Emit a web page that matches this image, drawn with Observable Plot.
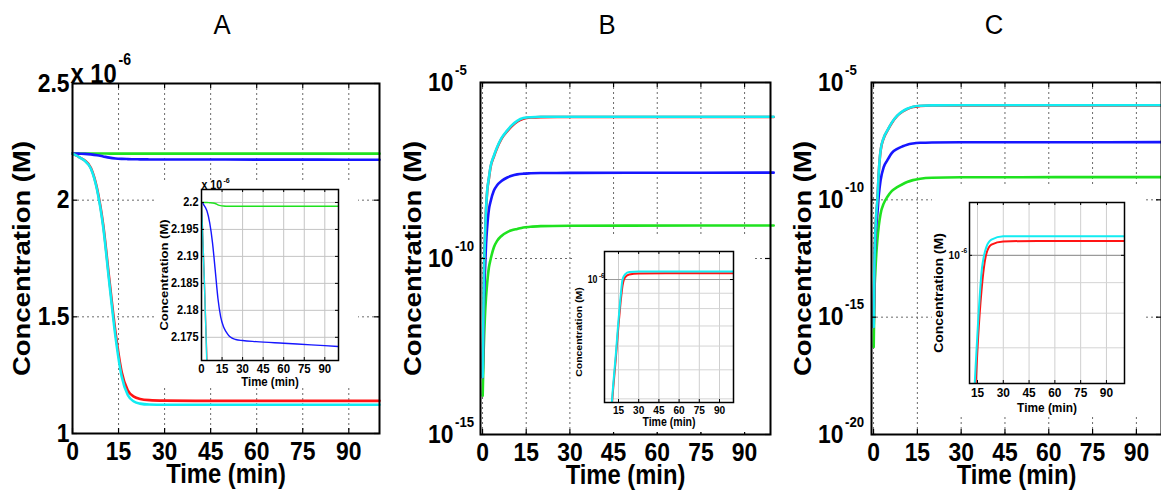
<!DOCTYPE html>
<html>
<head>
<meta charset="utf-8">
<script src="https://cdn.jsdelivr.net/npm/d3@7"></script>
<script src="https://cdn.jsdelivr.net/npm/@observablehq/plot@0.6"></script>
<style>
  body { margin: 0; background: #fff; overflow: hidden; }
  #fig { position: relative; width: 1161px; height: 491px; overflow: hidden; background: #fff;
         font-family: "Liberation Sans", Arial, Helvetica, sans-serif; }
  .layer { position: absolute; }
  .cover { position: absolute; background: #fff; }
  .title { position: absolute; width: 40px; text-align: center; font-size: 27px; line-height: 34px;
           top: 8px; transform: scaleX(0.95); }
</style>
</head>
<body>
<div id="fig"></div>
<script>
// ---- time axes (min) ----
const mainTicks = [0, 15, 30, 45, 60, 75, 90];
const zoomTicks = [15, 30, 45, 60, 75, 90];

// ---- panel A: linear, values in units of 1e-6 M ----
const aYTicks = [1, 1.5, 2, 2.5];
const aZoomYTicks = [2.175, 2.18, 2.185, 2.19, 2.195, 2.2];
const aTime  = [0, 1, 2, 3, 4, 6, 8, 10, 12, 14, 16, 18, 20, 22, 25, 30, 40, 60, 80, 100];
const aRed   = [2.2, 2.193, 2.186, 2.178, 2.170, 2.138, 2.05, 1.895, 1.66, 1.435, 1.265, 1.185, 1.158, 1.148, 1.143, 1.141, 1.14, 1.14, 1.14, 1.14];
const aCyan  = [2.2, 2.193, 2.186, 2.178, 2.169, 2.135, 2.045, 1.885, 1.645, 1.415, 1.245, 1.165, 1.137, 1.128, 1.124, 1.123, 1.123, 1.123, 1.123, 1.123];
const aBlue  = [2.2, 2.1998, 2.1994, 2.199, 2.1984, 2.1962, 2.1926, 2.1875, 2.1822, 2.1788, 2.177, 2.176, 2.1753, 2.1749, 2.1746, 2.1744, 2.1742, 2.1739, 2.1736, 2.1733];
const aGreen = [2.2, 2.2, 2.2, 2.2, 2.2, 2.19995, 2.1999, 2.1998, 2.19955, 2.1994, 2.19933, 2.1993, 2.1993, 2.1993, 2.1993, 2.1993, 2.1993, 2.1993, 2.1993, 2.1993];

// ---- panel B: log scale, M ----
const bYTicks = [1e-15, 1e-10, 1e-5];
const bTime  = [0.05, 0.4, 0.8, 1.2, 1.6, 2.2, 2.7, 3.9, 5, 6.5, 8.5, 10, 11.9, 14, 16.5, 20, 30, 50, 75, 100];
const bRed   = [4.27e-14, 1.55e-11, 3.1e-10, 2.4e-9, 8.1e-9, 1.9e-8, 3.7e-8, 7.9e-8, 1.38e-7, 2.5e-7, 4.15e-7, 5.7e-7, 7.7e-7, 9.3e-7, 1.01e-6, 1.04e-6, 1.048e-6, 1.05e-6, 1.05e-6, 1.05e-6];
const bCyan  = [4.27e-14, 1.58e-11, 3.24e-10, 2.51e-9, 8.51e-9, 2.0e-8, 3.89e-8, 8.32e-8, 1.45e-7, 2.63e-7, 4.37e-7, 6.03e-7, 8.13e-7, 9.77e-7, 1.035e-6, 1.059e-6, 1.064e-6, 1.064e-6, 1.064e-6, 1.064e-6];
const bBlue  = [4.27e-14, 3.16e-12, 3.72e-11, 2.51e-10, 7.94e-10, 2.51e-9, 3.98e-9, 8.51e-9, 1.2e-8, 1.58e-8, 2.0e-8, 2.24e-8, 2.45e-8, 2.57e-8, 2.63e-8, 2.68e-8, 2.7e-8, 2.72e-8, 2.74e-8, 2.75e-8];
const bGreen = [1.26e-14, 2.51e-13, 2.0e-12, 7.94e-12, 2.0e-11, 5.62e-11, 8.91e-11, 2.09e-10, 3.16e-10, 4.37e-10, 5.62e-10, 6.31e-10, 6.92e-10, 7.59e-10, 7.94e-10, 8.32e-10, 8.51e-10, 8.61e-10, 8.65e-10, 8.67e-10];
// inset B (near the plateau)
const bZoomTime = [9, 11, 13, 15, 16.5, 18, 20, 23, 30, 50, 100];
const bZoomCyan = [3.39e-7, 4.42e-7, 5.62e-7, 7.33e-7, 8.71e-7, 1.0e-6, 1.042e-6, 1.059e-6, 1.064e-6, 1.064e-6, 1.064e-6];
const bZoomRed  = [3.3e-7, 4.3e-7, 5.45e-7, 7.05e-7, 8.35e-7, 9.55e-7, 1.018e-6, 1.04e-6, 1.048e-6, 1.05e-6, 1.05e-6];
const bZoomMinor = [4e-7, 5e-7, 6e-7, 7e-7, 8e-7, 9e-7];

// ---- panel C: log scale, M ----
const cYTicks = [1e-20, 1e-15, 1e-10, 1e-5];
const cTime  = [0.05, 0.3, 0.6, 1, 1.3, 1.8, 2.4, 3.5, 4.7, 6.3, 8.1, 10, 11.5, 13.5, 16, 20, 30, 50, 75, 100];
const cRed   = [3.8e-16, 1.5e-13, 3.8e-12, 3.0e-11, 8.9e-11, 1.5e-9, 1.2e-8, 4.3e-8, 8.6e-8, 1.93e-7, 3.75e-7, 5.8e-7, 7.3e-7, 9.0e-7, 9.9e-7, 1.04e-6, 1.053e-6, 1.057e-6, 1.057e-6, 1.057e-6];
const cCyan  = [3.8e-16, 1.58e-13, 3.98e-12, 3.16e-11, 9.33e-11, 1.58e-9, 1.26e-8, 4.47e-8, 8.91e-8, 2.0e-7, 3.89e-7, 6.03e-7, 7.59e-7, 9.33e-7, 1.02e-6, 1.06e-6, 1.07e-6, 1.076e-6, 1.076e-6, 1.076e-6];
const cBlue  = [3.8e-16, 1.0e-13, 1.58e-12, 1.0e-11, 2.51e-11, 1.58e-10, 6.61e-10, 2.51e-9, 4.79e-9, 1.0e-8, 1.48e-8, 1.91e-8, 2.24e-8, 2.51e-8, 2.69e-8, 2.79e-8, 2.83e-8, 2.85e-8, 2.86e-8, 2.88e-8];
const cGreen = [5.4e-17, 1.0e-14, 7.94e-14, 6.31e-13, 1.86e-12, 7.94e-12, 2.51e-11, 7.08e-11, 1.32e-10, 2.4e-10, 3.47e-10, 4.68e-10, 5.75e-10, 6.92e-10, 7.94e-10, 8.71e-10, 9.12e-10, 9.23e-10, 9.29e-10, 9.33e-10];
// inset C (near the plateau)
const cZoomTime = [12, 13.4, 15.3, 17.3, 20.2, 23.1, 30, 50, 100];
const cZoomCyan = [5.13e-7, 6.11e-7, 7.69e-7, 9.33e-7, 1.033e-6, 1.062e-6, 1.076e-6, 1.076e-6, 1.076e-6];
const cZoomRed  = [5.0e-7, 5.69e-7, 7.24e-7, 8.71e-7, 1.007e-6, 1.042e-6, 1.055e-6, 1.057e-6, 1.057e-6];
const cZoomMinor = [7e-7, 8e-7, 9e-7];
const zoomMajor = [1e-6];

const RED = "#ff1414", CYAN = "#12ecf2", BLUE = "#1616ff", GREEN = "#1fe21f";
const FONT = '"Liberation Sans", Arial, Helvetica, sans-serif';
const SQ = 0.88; // narrow lettering

const fig = document.getElementById("fig");

function place(node, left, top) {
  const div = document.createElement("div");
  div.className = "layer";
  div.style.left = left + "px";
  div.style.top = top + "px";
  div.appendChild(node);
  fig.appendChild(div);
}
function cover(x0, y0, x1, y1) {
  const div = document.createElement("div");
  div.className = "cover";
  Object.assign(div.style, {left: x0 + "px", top: y0 + "px", width: (x1 - x0) + "px", height: (y1 - y0) + "px"});
  fig.appendChild(div);
}
// plain numeric attribute, or 0 when absent / given in em units
function num(s) { return s && /^-?\d*\.?\d+(e-?\d+)?$/.test(s.trim()) ? +s : 0; }
// compress glyphs horizontally (in page space) around each text anchor
function squeeze(svg, k) {
  svg.querySelectorAll("text").forEach(t => {
    const tr = t.getAttribute("transform") || "";
    const x = num(t.getAttribute("x")), y = num(t.getAttribute("y"));
    const s = /rotate/.test(tr) ? `scale(1,${k})` : `scale(${k},1)`;
    t.setAttribute("transform", `${tr} translate(${x},${y}) ${s} translate(${-x},${-y})`);
  });
}
function rows(time, vals) { return time.map((t, i) => ({t, v: vals[i]})); }
function lines(time, list, width, clip) {
  return list.map(([vals, color]) =>
    Plot.line(rows(time, vals), {x: "t", y: "v", stroke: color, strokeWidth: width, curve: "monotone-x", clip}));
}
function boxTicks(fw, fh, xt, yt, len, sw) {
  return [
    Plot.ruleX(xt, {x: d => d, insetTop: fh - len, stroke: "black", strokeWidth: sw}),
    Plot.ruleX(xt, {x: d => d, insetBottom: fh - len, stroke: "black", strokeWidth: sw}),
    Plot.ruleY(yt, {y: d => d, insetRight: fw - len, stroke: "black", strokeWidth: sw}),
    Plot.ruleY(yt, {y: d => d, insetLeft: fw - len, stroke: "black", strokeWidth: sw})
  ];
}
const expo = d => "-" + Math.round(-Math.log10(d));

function build({fx, fy, fw, fh, m, xDomain, yType, yDomain, marks}) {
  const svg = Plot.plot({
    width: fw + m[1] + m[3], height: fh + m[0] + m[2],
    marginTop: m[0], marginRight: m[1], marginBottom: m[2], marginLeft: m[3],
    x: {domain: xDomain, axis: null},
    y: {type: yType, domain: yDomain, axis: null},
    style: {background: "transparent", overflow: "visible", fontFamily: FONT, maxWidth: "none"},
    marks
  });
  squeeze(svg, SQ);
  place(svg, fx - m[3], fy - m[0]);
}

// axis titles, centred on the frame
function xTitle(dy, size) {
  return Plot.text(["Time (min)"], {frameAnchor: "bottom", textAnchor: "middle", lineAnchor: "middle", dy,
    text: d => d, fontSize: size, fontWeight: "bold"});
}
function yTitle(dx, size, dy = 0) {
  return Plot.text(["Concentration (M)"], {frameAnchor: "left", textAnchor: "middle", lineAnchor: "middle",
    dx, dy, rotate: -90, text: d => d, fontSize: size, fontWeight: "bold"});
}
function xTickLabels(ticks, dy, size) {
  return Plot.text(ticks, {x: d => d, frameAnchor: "bottom", textAnchor: "middle", lineAnchor: "top", dy,
    text: d => String(d), fontSize: size, fontWeight: "bold"});
}

// shared main-panel pieces
function mainGrid(yt) {
  return [
    Plot.ruleX(mainTicks, {x: d => d, stroke: "#6a6a6a", strokeWidth: 1, strokeDasharray: "2,3"}),
    Plot.ruleY(yt, {y: d => d, stroke: "#6a6a6a", strokeWidth: 1, strokeDasharray: "2,3"})
  ];
}
function mainText(ylabDx) {
  return [xTickLabels(mainTicks, 8, 26), xTitle(41, 27), yTitle(ylabDx, 27.5)];
}
function logLabels(yt, gap, big, small, raise) {
  return [
    Plot.text(yt, {y: d => d, frameAnchor: "left", textAnchor: "end", lineAnchor: "middle", dx: -gap,
      text: () => "10", fontSize: big, fontWeight: "bold"}),
    Plot.text(yt, {y: d => d, frameAnchor: "left", textAnchor: "start", lineAnchor: "middle", dx: -gap + 1.5,
      dy: -raise, text: expo, fontSize: small, fontWeight: "bold"})
  ];
}

// ================= Panel A =================
{
  const fw = 307, fh = 350;
  build({fx: 72, fy: 83, fw, fh, m: [50, 12, 60, 72], xDomain: [0, 100], yType: "linear", yDomain: [1, 2.5],
    marks: [
      ...mainGrid(aYTicks),
      ...lines(aTime, [[aGreen, GREEN], [aBlue, BLUE], [aRed, RED], [aCyan, CYAN]], 2.6, false),
      ...boxTicks(fw, fh, mainTicks, aYTicks, 5, 1.2),
      Plot.frame({stroke: "black", strokeWidth: 2}),
      Plot.text(aYTicks, {y: d => d, frameAnchor: "left", textAnchor: "end", lineAnchor: "middle", dx: -3,
        text: d => String(d), fontSize: 26, fontWeight: "bold"}),
      Plot.text(["x 10"], {frameAnchor: "top-left", textAnchor: "start", lineAnchor: "bottom", dx: -2, dy: -1,
        text: d => d, fontSize: 27, fontWeight: "bold"}),
      Plot.text(["-6"], {frameAnchor: "top-left", textAnchor: "start", lineAnchor: "bottom", dx: 46, dy: -19,
        text: d => d, fontSize: 16, fontWeight: "bold"}),
      ...mainText(-50)
    ]});
}

// ================= Panel B =================
{
  const fw = 290, fh = 352;
  build({fx: 480, fy: 82, fw, fh, m: [50, 12, 60, 80], xDomain: [-0.7, 98.9], yType: "log", yDomain: [1e-15, 1e-5],
    marks: [
      ...mainGrid(bYTicks),
      ...lines(bTime, [[bGreen, GREEN], [bBlue, BLUE], [bRed, RED], [bCyan, CYAN]], 2.6, false),
      ...boxTicks(fw, fh, mainTicks, bYTicks, 5, 1.2),
      Plot.frame({stroke: "black", strokeWidth: 2}),
      ...logLabels(bYTicks, 27, 26, 15, 12.5),
      ...mainText(-67.5)
    ]});
}

// ================= Panel C =================
{
  const fw = 290, fh = 352;
  build({fx: 871, fy: 82, fw, fh, m: [50, 12, 60, 80], xDomain: [-0.7, 98.6], yType: "log", yDomain: [1e-20, 1e-5],
    marks: [
      ...mainGrid(cYTicks),
      ...lines(cTime, [[cGreen, GREEN], [cBlue, BLUE], [cRed, RED], [cCyan, CYAN]], 2.6, false),
      ...boxTicks(fw, fh, mainTicks, cYTicks, 5, 1.2),
      Plot.frame({stroke: "black", strokeWidth: 2}),
      ...logLabels(cYTicks, 28, 26, 15, 12.5),
      ...mainText(-68)
    ]});
}

// white panes behind the insets
cover(157, 183, 358, 388);
cover(572, 237, 752, 432);
cover(932, 185, 1143, 415);

// ================= Inset A =================
{
  const fw = 137, fh = 171;
  build({fx: 201, fy: 189, fw, fh, m: [20, 10, 35, 50], xDomain: [0, 100], yType: "linear", yDomain: [2.1707, 2.2024],
    marks: [
      Plot.ruleX(mainTicks, {x: d => d, stroke: "#c4c4c4", strokeWidth: 1}),
      Plot.ruleY(aZoomYTicks, {y: d => d, stroke: "#c4c4c4", strokeWidth: 1}),
      ...lines(aTime, [[aGreen, GREEN], [aBlue, BLUE], [aRed, RED], [aCyan, CYAN]], 1.4, true),
      ...boxTicks(fw, fh, mainTicks, aZoomYTicks, 3, 1),
      Plot.frame({stroke: "black", strokeWidth: 1.5}),
      Plot.text(aZoomYTicks, {y: d => d, frameAnchor: "left", textAnchor: "end", lineAnchor: "middle", dx: -3,
        text: d => String(d), fontSize: 12.5, fontWeight: "bold"}),
      xTickLabels(mainTicks, 3, 13),
      xTitle(21, 13),
      yTitle(-37, 13),
      Plot.text(["x 10"], {frameAnchor: "top-left", textAnchor: "start", lineAnchor: "bottom", dx: 0, dy: -1,
        text: d => d, fontSize: 12, fontWeight: "bold"}),
      Plot.text(["-6"], {frameAnchor: "top-left", textAnchor: "start", lineAnchor: "bottom", dx: 22, dy: -7,
        text: d => d, fontSize: 8, fontWeight: "bold"})
    ]});
}

// ================= Inset B =================
{
  const fw = 129, fh = 151;
  build({fx: 604, fy: 251, fw, fh, m: [15, 10, 35, 40], xDomain: [4.6, 100.4], yType: "log", yDomain: [3.89e-7, 1.24e-6],
    marks: [
      Plot.ruleX(zoomTicks, {x: d => d, stroke: "#cfcfcf", strokeWidth: 1}),
      Plot.ruleY(bZoomMinor, {y: d => d, stroke: "#d4d4d4", strokeWidth: 1}),
      Plot.ruleY(zoomMajor, {y: d => d, stroke: "#9a9a9a", strokeWidth: 1}),
      ...lines(bZoomTime, [[bZoomRed, RED], [bZoomCyan, CYAN]], 2, true),
      ...boxTicks(fw, fh, zoomTicks, zoomMajor, 3, 1),
      Plot.frame({stroke: "black", strokeWidth: 1.5}),
      ...logLabels(zoomMajor, 7, 10, 7, 4),
      xTickLabels(zoomTicks, 3.5, 11.5),
      xTitle(20, 12),
      yTitle(-25, 10.5, 5)
    ]});
}

// ================= Inset C =================
{
  const fw = 155, fh = 181;
  build({fx: 969, fy: 202, fw, fh, m: [15, 10, 35, 45], xDomain: [10.35, 100.5], yType: "log", yDomain: [6.1e-7, 1.226e-6],
    marks: [
      Plot.ruleX(zoomTicks, {x: d => d, stroke: "#cfcfcf", strokeWidth: 1}),
      Plot.ruleY(cZoomMinor, {y: d => d, stroke: "#d4d4d4", strokeWidth: 1}),
      Plot.ruleY(zoomMajor, {y: d => d, stroke: "#9a9a9a", strokeWidth: 1.2}),
      ...lines(cZoomTime, [[cZoomRed, RED], [cZoomCyan, CYAN]], 2, true),
      ...boxTicks(fw, fh, zoomTicks, zoomMajor, 3, 1),
      Plot.frame({stroke: "black", strokeWidth: 1.5}),
      ...logLabels(zoomMajor, 9.7, 11.5, 7.5, 5),
      xTickLabels(zoomTicks, 3.5, 13.5),
      xTitle(24, 13.5),
      yTitle(-30, 14)
    ]});
}

// panel letters
[["A", 222], ["B", 607], ["C", 994]].forEach(([s, cx]) => {
  const d = document.createElement("div");
  d.className = "title";
  d.style.left = (cx - 20) + "px";
  d.textContent = s;
  fig.appendChild(d);
});
</script>
</body>
</html>
